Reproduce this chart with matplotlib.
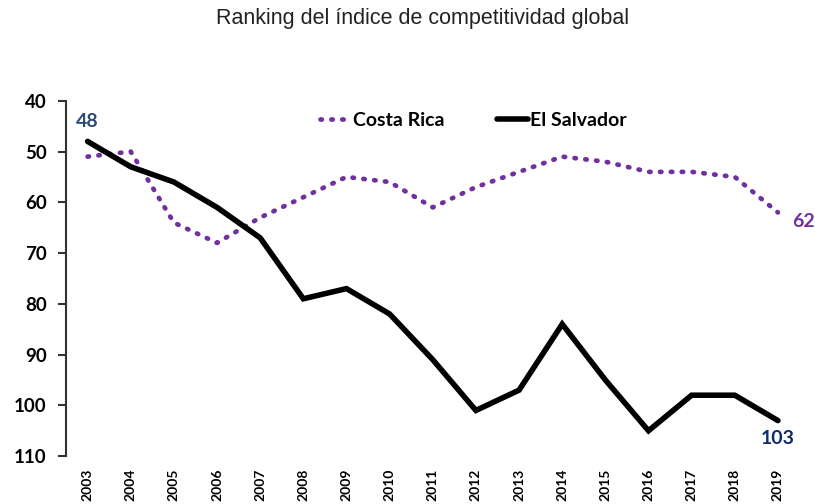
import matplotlib
matplotlib.use("Agg")
import matplotlib.pyplot as plt

years = list(range(2003, 2020))
costa_rica = [51, 50, 64, 68, 63, 59, 55, 56, 61, 57, 54, 51, 52, 54, 54, 55, 62]
el_salvador = [48, 53, 56, 61, 67, 79, 77, 82, 91, 101, 97, 84, 95, 105, 98, 98, 103]
y_ticks = [40, 50, 60, 70, 80, 90, 100, 110]

purple = "#7030A0"
font = "Lato"

fig = plt.figure(figsize=(8.15, 5.04), dpi=100)
ax = fig.add_axes([0.081, 0.095, 0.900, 0.705])

ax.plot(years, costa_rica, color=purple, lw=3.4, linestyle=(0, (0.3, 2.0)),
        dash_capstyle="round", label="Costa Rica")
ax.plot(years, el_salvador, color="black", lw=4, solid_joinstyle="miter",
        solid_capstyle="round", label="El Salvador")

ax.set_xlim(years[0] - 0.5, years[-1] + 0.5)
ax.set_ylim(110, 40)
ax.set_yticks(y_ticks)
ax.set_xticks(years)
ax.set_xticklabels([str(y) for y in years], rotation=90, fontsize=10,
                   fontweight="bold", family=font)
ax.set_yticklabels([str(v) for v in y_ticks], fontsize=13.5, fontweight="bold",
                   family=font)
ax.tick_params(axis="x", length=0, pad=9)
ax.tick_params(axis="y", length=6, width=1.5, color="#333333", pad=8)

for s in ["top", "right", "bottom"]:
    ax.spines[s].set_visible(False)
ax.spines["left"].set_color("#333333")
ax.spines["left"].set_linewidth(1.5)

ax.text(years[0], el_salvador[0] - 2.3, str(el_salvador[0]), color="#2F4A72",
        fontsize=14, fontweight="bold", family=font, ha="center", va="bottom")
ax.text(years[-1] + 0.33, costa_rica[-1] + 1.8, str(costa_rica[-1]), color=purple,
        fontsize=14, fontweight="bold", family=font, ha="left", va="center")
ax.text(years[-1], el_salvador[-1] + 3.6, str(el_salvador[-1]), color="#0E2A6B",
        fontsize=14, fontweight="bold", family=font, ha="center", va="center")

leg = ax.legend(loc="center", bbox_to_anchor=(0.555, 0.944), ncol=2,
                frameon=False, handlelength=1.6, handletextpad=0.1,
                columnspacing=2.7, prop={"family": font, "weight": "bold", "size": 14})

fig.text(0.518, 0.963, "Ranking del índice de competitividad global",
         ha="center", va="center", fontsize=15.5, family="Liberation Sans",
         color="#222222")

fig.savefig("out.png", dpi=100)
